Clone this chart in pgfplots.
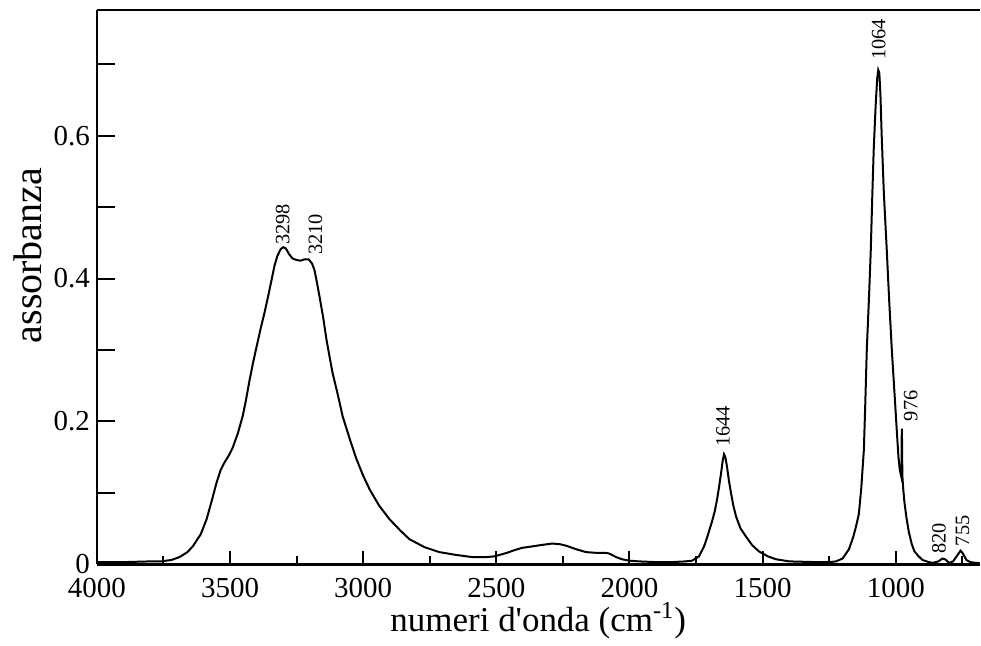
\documentclass[border=0pt]{standalone}
\usepackage{fontspec}
\setmainfont{Liberation Serif}
\usepackage{pgfplots}
\pgfplotsset{compat=1.18}
\tikzset{annot/.style={rotate=90, anchor=west, inner sep=0pt, font=\fontsize{10.2}{12}\selectfont}}
\begin{document}
\begin{tikzpicture}
\begin{axis}[
  scale only axis, width=442pt, height=277.5pt,
  x dir=reverse, xmin=685, xmax=4000, ymin=0, ymax=0.776,
  axis x line*=box, axis y line*=left,
  axis line style={-, line width=1.3pt, black},
  xtick={1000,1500,...,4000}, minor xtick={750,1250,...,3750},
  ytick=\empty,
  extra y ticks={0,0.1,0.2,0.3,0.4,0.5,0.6,0.7},
  extra y tick labels={0,{},0.2,{},0.4,{},0.6,{}},
  extra y tick style={major tick length=9pt, ytick pos=left},
  xtick pos=left, ytick pos=left,
  tick align=inside,
  major tick length=6.5pt, minor tick length=4pt,
  tick style={black, line width=1pt},
  /pgf/number format/assume math mode=true,
  /pgf/number format/1000 sep={},
  ticklabel style={font=\fontsize{14.5}{16}\selectfont},
  xticklabel style={yshift=-3.5pt},
  every axis y label/.style={at={(axis description cs:0,0.557)}, xshift=-34.5pt, rotate=90, anchor=center, font=\fontsize{20}{22}\selectfont},
  every axis x label/.style={at={(axis description cs:0.5,0)}, yshift=-33.5pt, anchor=base, font=\fontsize{17.5}{20}\selectfont},
  xlabel={numeri d\textquotesingle onda (cm\textsuperscript{-1})},
  ylabel={assorbanza},
]
\addplot[black, line width=1pt, mark=none] coordinates {
(4000,0.003) (3900,0.003) (3800,0.004) (3760,0.004) (3720,0.006) (3690,0.010)
(3660,0.017) (3640,0.025) (3610,0.042) (3588,0.063) (3570,0.087) (3550,0.115)
(3535,0.132) (3520,0.143) (3505,0.152) (3490,0.163) (3470,0.184) (3452,0.208)
(3440,0.230) (3426,0.259) (3413,0.283) (3400,0.305) (3385,0.330) (3370,0.353)
(3357,0.375) (3344,0.398) (3333,0.418) (3322,0.432) (3310,0.441) (3300,0.444)
(3290,0.442) (3278,0.434) (3265,0.428) (3250,0.426) (3235,0.425) (3220,0.427)
(3205,0.427) (3192,0.421) (3183,0.412) (3175,0.397) (3164,0.375) (3150,0.345)
(3138,0.315) (3126,0.290) (3115,0.268) (3095,0.237) (3077,0.207) (3050,0.175)
(3025,0.147) (3000,0.124) (2976,0.105) (2940,0.082) (2901,0.063) (2860,0.047)
(2826,0.035) (2770,0.024) (2714,0.017) (2650,0.013) (2590,0.010) (2540,0.010)
(2508,0.011) (2460,0.016) (2430,0.020) (2403,0.023) (2365,0.025) (2330,0.027)
(2290,0.029) (2260,0.028) (2238,0.026) (2200,0.021) (2163,0.017) (2126,0.016)
(2090,0.016) (2076,0.015) (2050,0.010) (2028,0.007) (2000,0.005) (1964,0.004)
(1900,0.003) (1840,0.003) (1790,0.004) (1765,0.005) (1739,0.011) (1720,0.025)
(1709,0.037) (1700,0.048) (1690,0.060) (1680,0.074) (1671,0.091) (1663,0.110)
(1656,0.128) (1650,0.145) (1645,0.154) (1640,0.150) (1634,0.137) (1627,0.118)
(1619,0.100) (1610,0.082) (1600,0.067) (1583,0.050) (1563,0.039) (1540,0.027)
(1514,0.018) (1480,0.011) (1450,0.007) (1400,0.004) (1300,0.003) (1250,0.003)
(1225,0.004) (1200,0.008) (1176,0.021) (1160,0.038) (1150,0.052) (1139,0.070)
(1130,0.105) (1120,0.160) (1115,0.220) (1109,0.300) (1100,0.380) (1094,0.440)
(1088,0.520) (1083,0.580) (1076,0.640) (1070,0.680) (1066,0.692) (1062,0.688)
(1058,0.660) (1053,0.600) (1045,0.520) (1034,0.440) (1025,0.370) (1015,0.300)
(1005,0.240) (996,0.185) (990,0.150) (985,0.132) (979,0.122) (977.5,0.190)
(976.5,0.170) (975.5,0.124) (972,0.105) (968,0.088) (960,0.065) (951,0.045)
(940,0.028) (930,0.018) (914,0.011) (900,0.006) (876,0.003) (860,0.002)
(840,0.004) (825,0.008) (815,0.007) (800,0.002) (785,0.004) (770,0.012)
(757,0.019) (748,0.015) (735,0.006) (720,0.003) (700,0.002) (685,0.002)
};
\node[annot] at (axis cs:3302,0.447) {3298};
\node[annot] at (axis cs:3179,0.433) {3210};
\node[annot] at (axis cs:1649,0.164) {1644};
\node[annot] at (axis cs:1064,0.706) {1064};
\node[annot] at (axis cs:944,0.200) {976};
\node[annot] at (axis cs:838,0.014) {820};
\node[annot] at (axis cs:749,0.025) {755};
\end{axis}
\path (current axis.south west) ++(-48.5pt,-38.5pt) rectangle ([shift={(0pt,5pt)}]current axis.north east);
\end{tikzpicture}
\end{document}
